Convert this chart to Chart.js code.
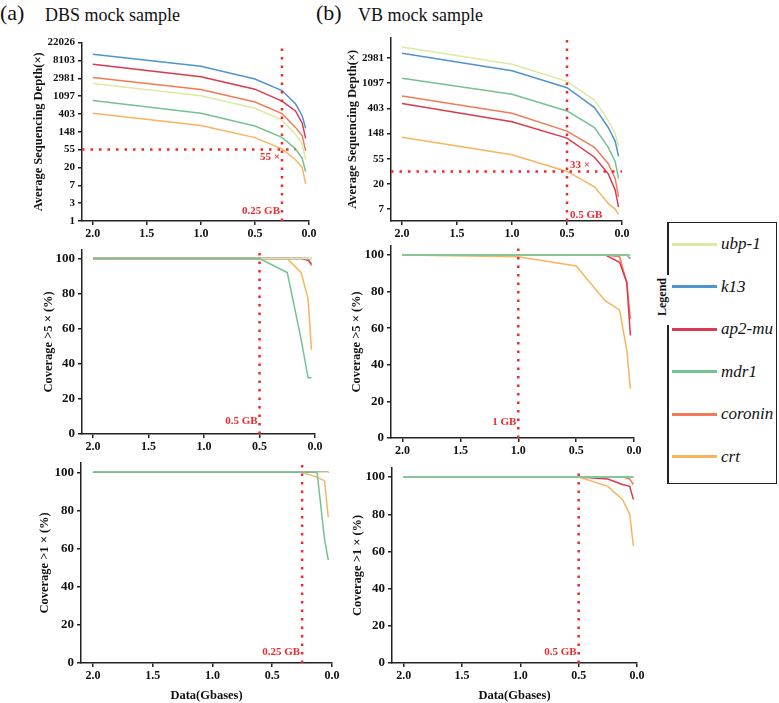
<!DOCTYPE html>
<html>
<head>
<meta charset="utf-8">
<script src="https://cdn.jsdelivr.net/npm/chart.js@4"></script>
<style>
  body { margin: 0; background: #fff; }
  #wrap { position: relative; width: 779px; height: 703px; overflow: hidden; font-family: 'Liberation Serif', 'Times New Roman', serif; color: #111; }
  #wrap canvas { position: absolute; }
  .tag { position: absolute; font-size: 22px; line-height: 22px; }
  .head { position: absolute; font-size: 18px; line-height: 18px; }
  .legbox { position: absolute; left: 668px; top: 222px; width: 108px; height: 260px; border: 1.5px solid #222; border-left: none; }
  .legside { position: absolute; left: 667px; width: 1.5px; background: #222; }
  .legword { position: absolute; left: 662px; top: 297px; font-weight: bold; font-size: 12px; transform: translate(-50%, -50%) rotate(-90deg); white-space: nowrap; }
  .legline { position: absolute; left: 672px; width: 45px; height: 3px; }
  .legtext { position: absolute; left: 721px; font-family: 'Liberation Serif', 'DejaVu Serif', serif; font-style: italic; font-size: 17px; line-height: 20px; }
</style>
</head>
<body>
<div id="wrap">
  <div class="tag" style="left:0px;top:2px">(a)</div>
  <div class="head" style="left:45px;top:6px">DBS mock sample</div>
  <div class="tag" style="left:316px;top:2px">(b)</div>
  <div class="head" style="left:358px;top:6px">VB mock sample</div>
  <div class="legbox"></div>
  <div class="legside" style="top:222px;height:53px"></div>
  <div class="legside" style="top:325px;height:159px"></div>
  <div class="legword">Legend</div>
</div>
<script>
// sub-sampled data amounts (Gbases)
const xData = [2, 1, 0.5, 0.25, 0.125, 0.0625, 0.03125];
const xTicks = [2.0, 1.5, 1.0, 0.5, 0.0];

const genes = ['ubp-1', 'k13', 'ap2-mu', 'mdr1', 'coronin', 'crt'];
const geneColors = ['#dde9a1', '#4f93cf', '#d93a50', '#74c290', '#f27b57', '#f8b45e'];

// average sequencing depth, one row per gene (same order as genes)
const dbsDepth = [
  [2210, 1120, 556, 285, 130, 75, 32],
  [11500, 5830, 2870, 1500, 713, 361, 181],
  [6510, 3260, 1620, 830, 478, 240, 103],
  [863, 420, 206, 109, 57, 33, 16],
  [3100, 1590, 788, 412, 190, 119, 51],
  [420, 211, 107, 57, 31, 20, 8]
];
const vbDepth = [
  [4630, 2320, 1180, 561, 247, 148, 90],
  [3600, 1790, 915, 416, 189, 110, 60],
  [488, 237, 124, 58, 30, 16, 8],
  [1340, 706, 365, 189, 86, 49, 25],
  [658, 333, 164, 86, 45, 25, 12],
  [128, 64, 33, 18, 9.3, 7.4, 6]
];

// coverage (%)
const dbsCov5 = [
  [100, 100, 100, 100, 100, 100, 100],
  [100, 100, 100, 100, 100, 100, 100],
  [100, 100, 100, 100, 100, 99, 97],
  [100, 100, 100, 92, 54, 32, 32],
  [100, 100, 100, 100, 100, 100, 96],
  [100, 100, 100, 100, 92, 77, 48]
];
const vbCov5 = [
  [100, 100, 100, 100, 100, 100, 99],
  [100, 100, 100, 100, 100, 100, 98],
  [100, 100, 100, 100, 96, 85, 56],
  [100, 100, 100, 100, 100, 100, 100],
  [100, 100, 100, 100, 99, 85, 65],
  [100, 99, 94, 75, 70, 48, 27]
];
const dbsCov1 = [
  [100, 100, 100, 100, 100, 100, 100],
  [100, 100, 100, 100, 100, 100, 100],
  [100, 100, 100, 100, 100, 100, 100],
  [100, 100, 100, 100, 100, 65, 54],
  [100, 100, 100, 100, 100, 100, 100],
  [100, 100, 100, 100, 97.5, 95.5, 76.5]
];
const vbCov1 = [
  [100, 100, 100, 100, 100, 100, 100],
  [100, 100, 100, 100, 100, 100, 100],
  [100, 100, 100, 99, 96, 95, 88],
  [100, 100, 100, 100, 100, 100, 100],
  [100, 100, 100, 100, 100, 99, 96],
  [100, 100, 100, 95, 88, 80, 63]
];

// depth ticks are powers of e
const dbsDepthPowers = [0, 1, 2, 3, 4, 5, 6, 7, 8, 9, 10];
const vbDepthPowers = [2, 3, 4, 5, 6, 7, 8];
const coverageTicks = [0, 20, 40, 60, 80, 100];

const RED = '#ee2a2e';
const INK = '#111';
Chart.defaults.font.family = "'Liberation Serif', 'Times New Roman', serif";
Chart.defaults.color = INK;

const wrap = document.getElementById('wrap');

// legend on the right
genes.forEach((g, i) => {
  const y = 244 + i * 42.5;
  const line = document.createElement('div');
  line.className = 'legline';
  line.style.top = (y - 1.5) + 'px';
  line.style.background = geneColors[i];
  wrap.appendChild(line);
  const t = document.createElement('div');
  t.className = 'legtext';
  t.style.top = (y - 10) + 'px';
  t.textContent = g;
  wrap.appendChild(t);
});

// dotted red guide lines and their labels
const guides = {
  id: 'guides',
  afterDatasetsDraw(chart, args, o) {
    const { ctx, chartArea: a, scales: { x, y } } = chart;
    ctx.save();
    ctx.strokeStyle = RED;
    ctx.lineWidth = 2.5;
    ctx.setLineDash([2.5, 6]);
    const vx = x.getPixelForValue(o.vx);
    ctx.beginPath();
    ctx.moveTo(vx, a.bottom);
    ctx.lineTo(vx, a.top);
    ctx.stroke();
    let hy = null;
    if (o.hy != null) {
      hy = y.getPixelForValue(o.hy);
      ctx.beginPath();
      ctx.moveTo(a.left, hy);
      ctx.lineTo(x.getPixelForValue(o.hTo), hy);
      ctx.stroke();
    }
    ctx.setLineDash([]);
    ctx.fillStyle = RED;
    ctx.font = 'bold 11px ' + Chart.defaults.font.family;
    ctx.textBaseline = 'middle';
    const put = (lab, py) => {
      ctx.textAlign = lab.side === 'left' ? 'right' : 'left';
      ctx.fillText(lab.text, lab.side === 'left' ? vx - 2 : vx + 3, py);
    };
    put(o.vLabel, a.bottom - o.vLabel.up);
    if (o.hLabel) put(o.hLabel, hy + o.hLabel.dy);
    ctx.restore();
  }
};

function axisStyle() {
  return {
    grid: { drawOnChartArea: false, drawTicks: true, tickLength: 4, color: '#222', lineWidth: 1.5 },
    border: { display: true, color: '#222', width: 1.5 }
  };
}

function panel(g, cfg) {
  const padTop = 8, padRight = 14;
  const left = Math.round(g.titleX - 7);
  const yW = g.axisX - left;
  const xH = cfg.xTitle ? 40 : 20;
  const cv = document.createElement('canvas');
  cv.width = yW + (g.right - g.axisX) + padRight;
  cv.height = padTop + (g.bottom - g.top) + xH;
  cv.style.left = left + 'px';
  cv.style.top = (g.top - padTop) + 'px';
  wrap.appendChild(cv);

  const datasets = genes.map((name, i) => ({
    label: name,
    data: xData.map((x, j) => ({ x: x, y: cfg.values[i][j] })),
    borderColor: geneColors[i],
    borderWidth: 1.5,
    pointRadius: 0,
    tension: 0,
    order: name === 'mdr1' ? 0 : 1
  }));

  const yScale = cfg.log ? {
    type: 'logarithmic',
    min: Math.exp(cfg.yMin),
    max: Math.exp(cfg.yMax),
    afterBuildTicks: ax => { ax.ticks = cfg.yTicks.map(p => ({ value: Math.exp(p) })); },
    ticks: { callback: v => String(Math.round(v)), font: { size: 11, weight: 'bold' }, color: INK, padding: 3, autoSkip: false }
  } : {
    type: 'linear',
    min: 0,
    max: 105,
    afterBuildTicks: ax => { ax.ticks = cfg.yTicks.map(v => ({ value: v })); },
    ticks: { font: { size: 13, weight: 'bold' }, color: INK, padding: 3, autoSkip: false }
  };
  Object.assign(yScale, axisStyle(), {
    afterFit: ax => { ax.width = yW; },
    title: { display: true, text: cfg.yTitle, color: INK, font: { size: 12.5, weight: 'bold' }, padding: 0 }
  });

  new Chart(cv, {
    type: 'line',
    data: { datasets: datasets },
    options: {
      responsive: false,
      animation: false,
      layout: { padding: { top: padTop, right: padRight, left: 0, bottom: 0 } },
      scales: {
        x: Object.assign({
          type: 'linear',
          reverse: true,
          min: 0,
          max: 2.1,
          afterBuildTicks: ax => { ax.ticks = xTicks.map(v => ({ value: v })); },
          afterFit: ax => { ax.height = xH; },
          ticks: { callback: v => v.toFixed(1), font: { size: 12, weight: 'bold' }, color: INK, padding: 2, maxRotation: 0, autoSkip: false },
          title: { display: !!cfg.xTitle, text: 'Data(Gbases)', color: INK, font: { size: 12.5, weight: 'bold' }, padding: 0 }
        }, axisStyle()),
        y: yScale
      },
      plugins: {
        legend: { display: false },
        tooltip: { enabled: false },
        guides: cfg.guides
      }
    },
    plugins: [guides]
  });
}

const depthTitle = 'Average Sequencing Depth(\u00d7)';
const cov5Title = 'Coverage >5 \u00d7 (%)';
const cov1Title = 'Coverage >1 \u00d7 (%)';

panel({ axisX: 82, top: 41, right: 309, bottom: 221, titleX: 38 }, {
  values: dbsDepth, log: true, yMin: 0, yMax: 10, yTicks: dbsDepthPowers, yTitle: depthTitle,
  guides: { vx: 0.25, hy: 55, hTo: 0.125, vLabel: { text: '0.25 GB', side: 'left', up: 10 }, hLabel: { text: '55 \u00d7', side: 'left', dy: 8 } }
});
panel({ axisX: 391, top: 36, right: 622, bottom: 221, titleX: 352 }, {
  values: vbDepth, log: true, yMin: 1.53, yMax: 8.81, yTicks: vbDepthPowers, yTitle: depthTitle,
  guides: { vx: 0.5, hy: 33, hTo: 0, vLabel: { text: '0.5 GB', side: 'right', up: 6 }, hLabel: { text: '33 \u00d7', side: 'right', dy: -6 } }
});
panel({ axisX: 82, top: 247, right: 315, bottom: 434, titleX: 48 }, {
  values: dbsCov5, yTicks: coverageTicks, yTitle: cov5Title,
  guides: { vx: 0.5, vLabel: { text: '0.5 GB', side: 'left', up: 13 } }
});
panel({ axisX: 391, top: 243, right: 634, bottom: 438, titleX: 356 }, {
  values: vbCov5, yTicks: coverageTicks, yTitle: cov5Title,
  guides: { vx: 1.0, vLabel: { text: '1 GB', side: 'left', up: 16 } }
});
panel({ axisX: 81, top: 460, right: 332, bottom: 663, titleX: 44 }, {
  values: dbsCov1, yTicks: coverageTicks, yTitle: cov1Title, xTitle: true,
  guides: { vx: 0.25, vLabel: { text: '0.25 GB', side: 'left', up: 11 } }
});
panel({ axisX: 392, top: 465, right: 637, bottom: 663, titleX: 357 }, {
  values: vbCov1, yTicks: coverageTicks, yTitle: cov1Title, xTitle: true,
  guides: { vx: 0.5, vLabel: { text: '0.5 GB', side: 'left', up: 11 } }
});
</script>
</body>
</html>
